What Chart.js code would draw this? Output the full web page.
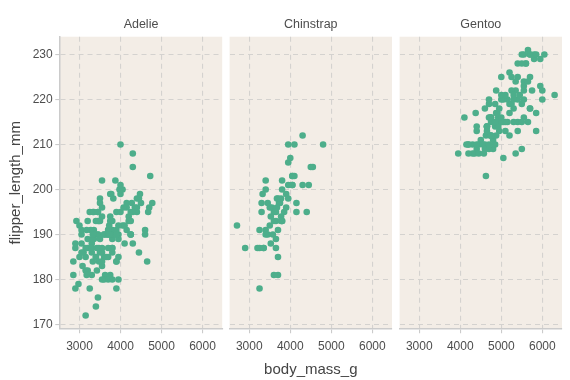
<!DOCTYPE html>
<html><head><meta charset="utf-8">
<script src="https://cdn.jsdelivr.net/npm/chart.js@4/dist/chart.umd.min.js"></script>
<style>
html,body{margin:0;padding:0;background:#fff;width:570px;height:380px;overflow:hidden}
canvas{position:absolute;top:0}
</style></head><body>
<canvas id="c1" width="226" height="380" style="left:0px"></canvas>
<canvas id="c2" width="170" height="380" style="left:226px"></canvas>
<canvas id="c3" width="170" height="380" style="left:396px"></canvas>
<script>
const panelNames = ['Adelie', 'Chinstrap', 'Gentoo'];
const xTickValues = [3000, 4000, 5000, 6000];
const yTickValues = [170, 180, 190, 200, 210, 220, 230];

const adelieMass = [3750,3800,3250,3450,3650,3625,4675,3475,4250,3300,3700,3200,3800,4400,3700,3450,4500,3325,4200,3400,3600,3800,3950,3800,3800,3550,3200,3150,3950,3250,3900,3300,3900,3325,4150,3950,3550,3300,4650,3150,3900,3100,4400,3000,4600,3425,2975,3450,4150,3500,4300,3450,4050,2900,3700,3550,3800,2850,3750,3150,4400,3600,4050,2850,3950,3350,4100,3050,4450,3600,3900,3550,4150,3700,4250,3700,3900,3550,4000,3200,4700,3800,4200,3350,3550,3800,3500,3950,3600,3550,4300,3400,4450,3300,4300,3700,4350,2900,4100,3725,4725,3075,4250,2925,3550,3750,3900,3175,4775,3825,4600,3200,4275,3900,4075,2900,3775,3350,3325,3150,3500,3450,3875,3050,4000,3275,4300,3050,4000,3325,3500,3500,4475,3425,3900,3175,3975,3400,4250,3400,3475,3050,3725,3000,3650,4250,3475,3450,3750,3700,4000];
const adelieFlipper = [181,186,195,193,190,181,195,193,190,186,180,182,191,198,185,195,197,184,194,174,180,189,185,180,187,183,187,172,180,178,178,188,184,195,196,190,180,181,184,182,195,186,196,185,190,182,179,190,191,186,188,190,200,187,191,186,193,181,194,185,195,185,192,184,192,195,188,190,198,190,190,196,197,190,195,191,184,187,195,189,196,187,193,191,194,190,189,189,190,202,205,185,186,187,208,190,196,178,192,192,203,183,190,193,184,199,190,181,197,198,191,193,197,191,196,188,199,189,189,187,198,176,202,186,199,191,195,191,210,190,197,193,199,187,190,191,200,185,193,193,187,188,190,192,185,190,184,195,193,187,201];

const chinstrapMass = [3500,3900,3650,3525,3725,3950,3250,3750,4150,3700,3800,3775,3700,4050,3575,4050,3300,3700,3450,4400,3600,3400,2900,3800,3300,4150,3400,3800,3700,4550,3200,4300,3350,4100,3600,3900,3850,4800,2700,4500,3950,3650,3550,3500,3675,4450,3400,4300,3250,3675,3325,3950,3600,4050,3350,3450,3250,4050,3800,3525,3950,3650,3650,4000,3400,3775,4100,3775];
const chinstrapFlipper = [192,196,193,188,197,198,178,197,195,198,193,194,185,201,190,201,197,181,190,195,181,191,187,193,195,197,200,200,191,205,187,201,187,203,195,199,195,210,192,205,210,187,196,196,196,201,190,212,187,198,199,201,193,203,187,197,191,203,202,194,206,189,195,207,202,193,210,198];

const gentooMass = [4500,5700,4450,5700,5400,4550,4800,5200,4400,5150,4650,5550,4650,5850,4200,5850,4150,6300,4800,5350,5700,5000,4400,5050,5000,5100,4100,5650,4600,5550,5250,4700,5050,6050,5150,5400,4950,5250,4350,5350,3950,5700,4300,4750,5550,4900,4200,5400,5100,5300,4850,5300,4400,5000,4900,5050,4300,5000,4450,5550,4200,5300,4400,5650,4700,5700,4650,5800,4700,5550,4750,5000,5100,5200,4700,5800,4600,6000,4750,5950,4625,5450,4725,5350,4750,5600,4600,5300,4875,5550,4950,5400,4750,5650,4850,5200,4925,4875,4625,5250,4850,5600,4975,5500,4725,5500,4700,5500,4575,5500,5000,5950,4650,5500,4375,5850,4875,6000,4925,4850,5750,5200,5400];
const gentooFlipper = [211,230,210,218,215,210,211,219,209,215,214,216,214,213,210,217,210,221,209,222,218,215,213,215,215,215,216,215,210,220,222,209,207,230,220,220,213,219,208,208,208,225,210,216,222,217,210,225,213,215,210,220,210,225,217,220,208,220,208,224,208,221,214,231,219,230,214,229,220,223,216,221,221,217,216,230,209,220,215,223,212,221,212,224,212,228,218,218,212,230,218,228,212,224,214,226,216,222,203,225,219,228,215,228,216,215,210,219,208,209,216,229,213,230,217,230,217,222,214,215,222,212,213];

const FONT = '"Liberation Sans", Arial, Helvetica, sans-serif';
const PANEL_BG = '#f3ede6';
const GRID = '#d4d2cf';
const AXIS = '#cbcbcb';
const TXT = '#4d4d4d';
const POINT = '#4dae8b';
const X_MIN = 2520, X_MAX = 6480, Y_MIN = 169.05, Y_MAX = 233.95;

const panelPlugin = {
  id: 'panelDeco',
  beforeDraw(chart) {
    const a = chart.chartArea, ctx = chart.ctx;
    ctx.save();
    ctx.fillStyle = PANEL_BG;
    ctx.fillRect(a.left, a.top, a.right - a.left, a.bottom - a.top);
    ctx.restore();
  },
  afterDraw(chart, args, opts) {
    const a = chart.chartArea, ctx = chart.ctx;
    ctx.save();
    ctx.font = '12.5px ' + FONT;
    ctx.fillStyle = TXT;
    ctx.textAlign = 'center';
    ctx.textBaseline = 'middle';
    ctx.fillText(opts.label, (a.left + a.right) / 2, 24.5);
    ctx.restore();
  }
};

function makePanel(id, label, mass, flipper, first, middle, yWidth, padRight) {
  const pts = mass.map((m, i) => ({ x: m, y: flipper[i] }));
  new Chart(document.getElementById(id), {
    type: 'scatter',
    data: { datasets: [{ data: pts, backgroundColor: POINT, borderWidth: 0, pointRadius: 3.3, pointHoverRadius: 3.3 }] },
    plugins: [panelPlugin],
    options: {
      responsive: false, animation: false,
      layout: { padding: { left: 0, right: padRight, top: 36.7, bottom: 0 } },
      plugins: { legend: { display: false }, tooltip: { enabled: false }, panelDeco: { label: label } },
      scales: {
        x: {
          type: 'linear', min: X_MIN, max: X_MAX,
          afterBuildTicks: s => { s.ticks = xTickValues.map(v => ({ value: v })); },
          afterFit: s => { s.height = 51.2; },
          grid: { color: GRID, lineWidth: 1.1, borderDash: [5, 4], drawTicks: true, tickLength: 4.5, tickColor: AXIS, tickWidth: 1.1, tickBorderDash: [] },
          border: { display: true, color: AXIS, width: 1.5, dash: [5, 4] },
          ticks: { color: TXT, font: { size: 12, family: FONT }, padding: 6, maxRotation: 0, autoSkip: false, callback: v => String(v) },
          title: { display: middle, text: 'body_mass_g', color: '#444', font: { size: 15, family: FONT }, padding: { top: 0, bottom: 1 } }
        },
        y: {
          type: 'linear', min: Y_MIN, max: Y_MAX,
          afterBuildTicks: s => { s.ticks = yTickValues.map(v => ({ value: v })); },
          afterFit: s => { s.width = yWidth; },
          grid: { color: GRID, lineWidth: 1.1, borderDash: [5, 4], drawTicks: first, tickLength: 4.5, tickColor: AXIS, tickWidth: 1.1, tickBorderDash: [] },
          border: { display: first, color: AXIS, width: 1.5, dash: [5, 4] },
          ticks: { display: first, color: TXT, font: { size: 12, family: FONT }, padding: 2.6, callback: v => String(v) },
          title: { display: first, text: 'flipper_length_mm', color: '#444', font: { size: 15, family: FONT }, padding: { top: 7, bottom: 0 } }
        }
      }
    }
  });
}

makePanel('c1', panelNames[0], adelieMass, adelieFlipper, true, false, 59.8, 3.8);
makePanel('c2', panelNames[1], chinstrapMass, chinstrapFlipper, false, true, 3.6, 4);
makePanel('c3', panelNames[2], gentooMass, gentooFlipper, false, false, 3.6, 4);
</script>
</body></html>
